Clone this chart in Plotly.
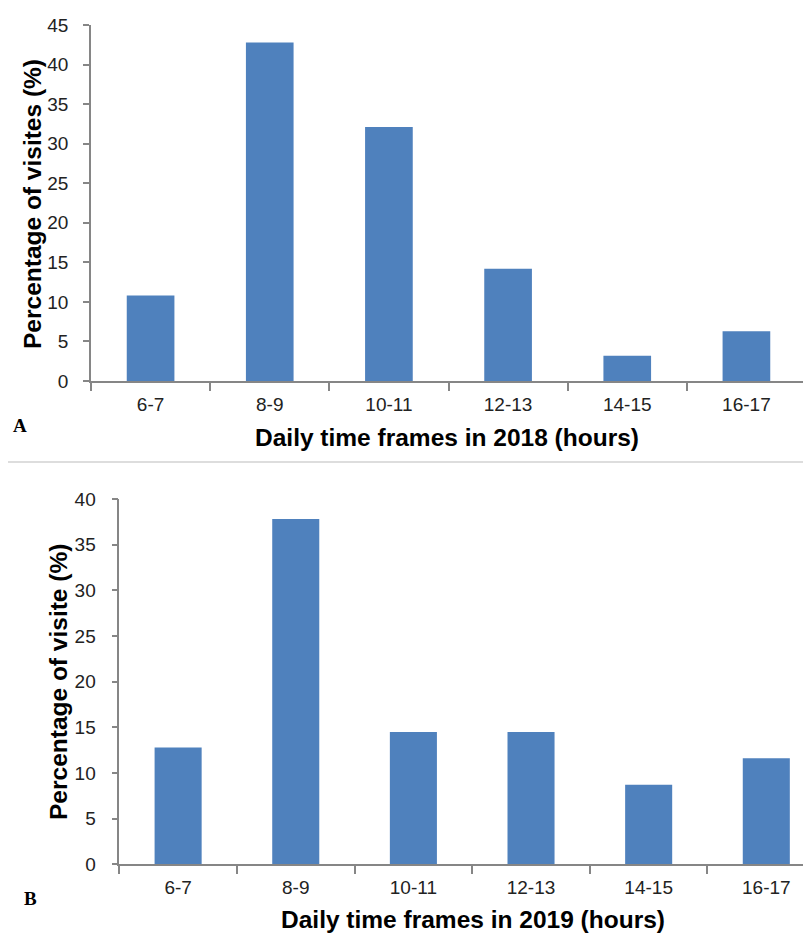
import plotly.graph_objects as go

# Page has an 8px body margin; figure sized to fill the rest of the 811x934 window.
OFF = 8
W, H = 811 - OFF, 934 - OFF

categories = ["6-7", "8-9", "10-11", "12-13", "14-15", "16-17"]
visits_2018 = [10.8, 42.8, 32.1, 14.2, 3.2, 6.3]
visits_2019 = [12.8, 37.8, 14.5, 14.5, 8.7, 11.6]
y_ticks_2018 = [0, 5, 10, 15, 20, 25, 30, 35, 40, 45]
y_ticks_2019 = [0, 5, 10, 15, 20, 25, 30, 35, 40]


def px(x):
    return (x - OFF) / W


def py(y):
    return 1 - (y - OFF) / H


BAR = "#4F81BD"
AXIS = "#868686"
TICKFONT = dict(family="Liberation Sans, Arial", size=19, color="#222222")
TITLEFONT = dict(family="Liberation Sans, Arial", size=24.5, color="#000000")

fig = go.Figure()
fig.add_trace(go.Bar(x=categories, y=visits_2018, marker_color=BAR,
                     marker_line_width=0, xaxis="x", yaxis="y"))
fig.add_trace(go.Bar(x=categories, y=visits_2019, marker_color=BAR,
                     marker_line_width=0, xaxis="x2", yaxis="y2"))

common_x = dict(type="category", showgrid=False, showline=True, linecolor=AXIS,
                linewidth=1.5, ticks="outside", tickson="boundaries", ticklen=8,
                tickcolor=AXIS, tickwidth=1.5, tickfont=TICKFONT, zeroline=False,
                automargin=False, ticklabelstandoff=5)
common_y = dict(showgrid=False, showline=True, linecolor=AXIS, linewidth=1.5,
                ticks="outside", ticklen=6, tickcolor=AXIS, tickwidth=1.5,
                tickfont=TICKFONT, zeroline=False, automargin=False)

fig.update_layout(
    width=W, height=H,
    margin=dict(l=0, r=0, t=0, b=0, autoexpand=False),
    paper_bgcolor="white", plot_bgcolor="white",
    showlegend=False,
    bargap=0.6,
    xaxis=dict(common_x, domain=[px(91), px(806)], range=[-0.5, 5.5], anchor="y"),
    yaxis=dict(common_y, domain=[py(381), py(25)], range=[0, 45],
               tickvals=y_ticks_2018, anchor="x", ticklabelstandoff=11),
    xaxis2=dict(common_x, domain=[px(119.3), 1], range=[-0.5, 5.38], anchor="y2"),
    yaxis2=dict(common_y, domain=[py(864.3), py(499)], range=[0, 40],
                tickvals=y_ticks_2019, anchor="x2", ticklabelstandoff=12),
)

annotations = [
    dict(text="<b>Daily time frames in 2018 (hours)</b>", x=px(447), y=py(437),
         font=TITLEFONT),
    dict(text="<b>Daily time frames in 2019 (hours)</b>", x=px(473), y=py(919),
         font=TITLEFONT),
    dict(text="<b>Percentage of visites (%)</b>", x=px(32), y=py(204),
         textangle=-90, font=TITLEFONT),
    dict(text="<b>Percentage of visite (%)</b>", x=px(58), y=py(682),
         textangle=-90, font=TITLEFONT),
    dict(text="<b>A</b>", x=px(20), y=py(425),
         font=dict(family="Liberation Serif, Times New Roman", size=19, color="#000")),
    dict(text="<b>B</b>", x=px(30), y=py(898),
         font=dict(family="Liberation Serif, Times New Roman", size=19, color="#000")),
]
for a in annotations:
    a.update(xref="paper", yref="paper", showarrow=False,
             xanchor="center", yanchor="middle")
fig.update_layout(annotations=annotations)

fig.add_shape(type="line", xref="paper", yref="paper",
              x0=px(8), x1=1, y0=py(462), y1=py(462),
              line=dict(color="#DDDDDD", width=2))

fig.write_html("out.html")
